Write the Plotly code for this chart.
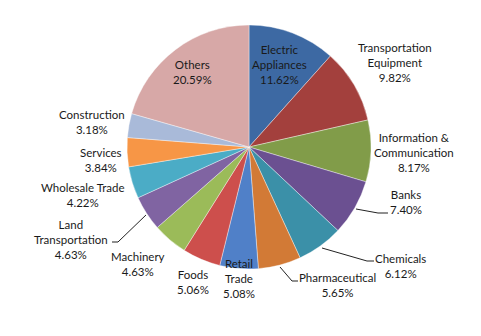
import plotly.graph_objects as go

# Share of market capitalisation by sector (%)
sectors = [
    "Electric Appliances", "Transportation Equipment", "Information & Communication",
    "Banks", "Chemicals", "Pharmaceutical", "Retail Trade", "Foods", "Machinery",
    "Land Transportation", "Wholesale Trade", "Services", "Construction", "Others",
]
shares = [11.62, 9.82, 8.17, 7.40, 6.12, 5.65, 5.08, 5.06, 4.63, 4.63, 4.22, 3.84, 3.18, 20.59]

# How each sector name is broken over lines in its label
label_lines = [
    "Electric<br>Appliances", "Transportation<br>Equipment", "Information &<br>Communication",
    "Banks", "Chemicals", "Pharmaceutical", "Retail<br>Trade", "Foods", "Machinery",
    "Land<br>Transportation", "Wholesale Trade", "Services", "Construction", "Others",
]

colors = [
    "#3d69a3", "#a3403d", "#819c49", "#6b5091", "#3b90a8", "#d27a36", "#5080c8",
    "#cd4f4c", "#9bbb59", "#8064a2", "#4bacc6", "#f79646", "#a9bad9", "#d7a8a7",
]

W, H = 481, 336
cx, cy, r = 249, 147, 122

fig = go.Figure(go.Pie(
    labels=sectors,
    values=shares,
    sort=False,
    direction="clockwise",
    rotation=0,
    textinfo="none",
    hoverinfo="skip",
    marker=dict(colors=colors, line=dict(color="rgba(255,255,255,0.55)", width=0.7)),
    domain=dict(x=[(cx - r) / W, (cx + r) / W], y=[(H - cy - r) / H, (H - cy + r) / H]),
    showlegend=False,
))

# Label anchor points (pixel centres of each text block)
label_pos = [
    (279, 64), (395, 62), (414, 153), (406, 202), (400, 266), (337, 285), (239, 278),
    (193, 282), (138, 264), (71, 239), (83, 195), (101, 160), (92, 122), (192, 72),
]

for name, val, (px, py) in zip(label_lines, shares, label_pos):
    fig.add_annotation(
        x=px / W, y=1 - py / H, xref="paper", yref="paper",
        text=f"{name}<br>{val:.2f}%", showarrow=False,
        xanchor="center", yanchor="middle", align="center",
        font=dict(family="Lato, 'Open Sans', sans-serif", size=11.5, color="#1a1a1a"),
    )

# Leader lines for the labels that sit away from their slices
leaders = [
    [(356, 209), (378, 213), (388, 213)],
    [(322, 248), (367, 261), (374, 261)],
    [(280, 267), (292, 281), (298, 281)],
    [(146, 215), (118, 242), (112, 242)],
]
for pts in leaders:
    path = "M " + " L ".join(f"{x / W:.5f},{1 - y / H:.5f}" for x, y in pts)
    fig.add_shape(type="path", path=path, xref="paper", yref="paper",
                  line=dict(color="#222222", width=1))

fig.update_layout(
    width=W, height=H,
    margin=dict(l=0, r=0, t=0, b=0),
    paper_bgcolor="white", plot_bgcolor="white",
)

fig.write_html("out.html")
